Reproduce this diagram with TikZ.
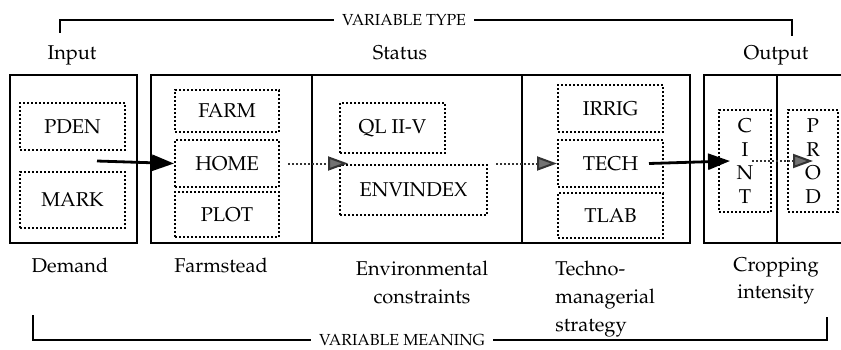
\documentclass[tikz,border=0pt]{standalone}
\usepackage[T1]{fontenc}
\usepackage{mathpazo}
\usetikzlibrary{arrows.meta,positioning}

\tikzset{
  mainbox/.style={draw, line width=1.3pt, inner sep=0pt},
  varbox/.style={draw, densely dotted, line width=1pt, inner sep=0pt,
    font=\fontsize{10}{11.7}\selectfont, align=center},
  heading/.style={font=\fontsize{10}{12}\selectfont, inner sep=0pt},
  meaning/.style={font=\fontsize{10}{13.8}\selectfont, inner sep=0pt, anchor=north, align=center},
  bracket/.style={line width=1.3pt},
  brackettext/.style={font=\fontsize{8}{10}\selectfont, inner sep=4pt},
  solidarrow/.style={line width=1.4pt, -{Triangle[length=11pt,width=8pt]}},
  dotarrow/.style={line width=1pt, densely dotted, black!80,
    -{Triangle[length=10pt,width=7pt,fill=black!55]}}
}

\begin{document}
\begin{tikzpicture}[x=0.5pt,y=-0.5pt]
\useasboundingbox (0,0) rectangle (841,349);

% variable type
\node[brackettext] (vartype) at (404,20) {VARIABLE TYPE};
\draw[bracket] (vartype.west) -- (60,20) -- (60,33);
\draw[bracket] (vartype.east) -- (792,20) -- (792,36);

\node[heading] (input) at (72,55) {Input};
\node[heading] (status) at (400,53) {Status};
\node[heading] (output) at (776,55) {Output};

% main boxes
\node[mainbox, minimum width=63.5pt, minimum height=84pt] (demandbox) at (73.5,159) {};
\node[mainbox, minimum width=269.5pt, minimum height=84pt] (statusbox) at (420.5,159) {};
\draw[line width=1.3pt] (312,75) -- (312,243);
\draw[line width=1.3pt] (522,75) -- (522,243);
\node[mainbox, minimum width=78pt, minimum height=84pt] (outputbox) at (782,159) {};
\draw[line width=1.3pt] (777,75) -- (777,243);

% variables
\node[varbox, minimum width=52.5pt, minimum height=23.5pt] (PDEN) at (72.5,126.5) {PDEN};
\node[varbox, minimum width=52.5pt, minimum height=28pt] (MARK) at (72.5,200) {MARK};
\node[varbox, minimum width=52pt, minimum height=21pt] (FARM) at (227,111) {FARM};
\node[varbox, minimum width=52pt, minimum height=23.5pt] (HOME) at (227,163.5) {HOME};
\node[varbox, minimum width=52pt, minimum height=22.5pt] (PLOT) at (227,214.5) {PLOT};
\node[varbox, minimum width=52.5pt, minimum height=25pt] (QL) at (392.5,128) {QL II-V};
\node[varbox, minimum width=73.5pt, minimum height=25pt] (ENVINDEX) at (413.5,190) {ENVINDEX};
\node[varbox, minimum width=52.5pt, minimum height=23.5pt] (IRRIG) at (610.5,108.5) {IRRIG};
\node[varbox, minimum width=52.5pt, minimum height=23.5pt] (TECH) at (610.5,163.5) {TECH};
\node[varbox, minimum width=52.5pt, minimum height=22.5pt] (TLAB) at (610.5,215.5) {TLAB};
\node[varbox, minimum width=26pt, minimum height=51pt] (CINT) at (745,161) {C\\I\\N\\T};
\node[varbox, minimum width=25pt, minimum height=51pt] (PROD) at (813,161) {P\\R\\O\\D};

% links
\coordinate (demandout) at (97,161);
\draw[solidarrow] (demandout) -- (HOME.west);
\draw[dotarrow] ([xshift=4pt]HOME.east) -- ([xshift=4.5pt]HOME.east -| ENVINDEX.west);
\draw[dotarrow] ([xshift=4pt]TECH.west -| ENVINDEX.east) -- (TECH.west);
\draw[solidarrow] ([xshift=-7.5pt]TECH.east) -- ([xshift=6pt]CINT.west);
\draw[dotarrow] ([xshift=3.5pt]CINT.center) -- (PROD.center);

% variable meaning
\node[meaning] (demand) at (70,258) {Demand};
\node[meaning] (farmstead) at (221,258) {Farmstead};
\node[meaning] (environ) at (422,261) {Environmental\\constraints};
\node[meaning, anchor=north west, align=left] (techno) at (555,261) {Techno-\\managerial\\strategy};
\node[meaning] (cropping) at (776,257) {Cropping\\intensity};

\node[brackettext] (varmeaning) at (402,340) {VARIABLE MEANING};
\draw[bracket] (varmeaning.west) -- (33,340) -- (33,315);
\draw[bracket] (varmeaning.east) -- (827,340) -- (827,317);
\end{tikzpicture}
\end{document}
